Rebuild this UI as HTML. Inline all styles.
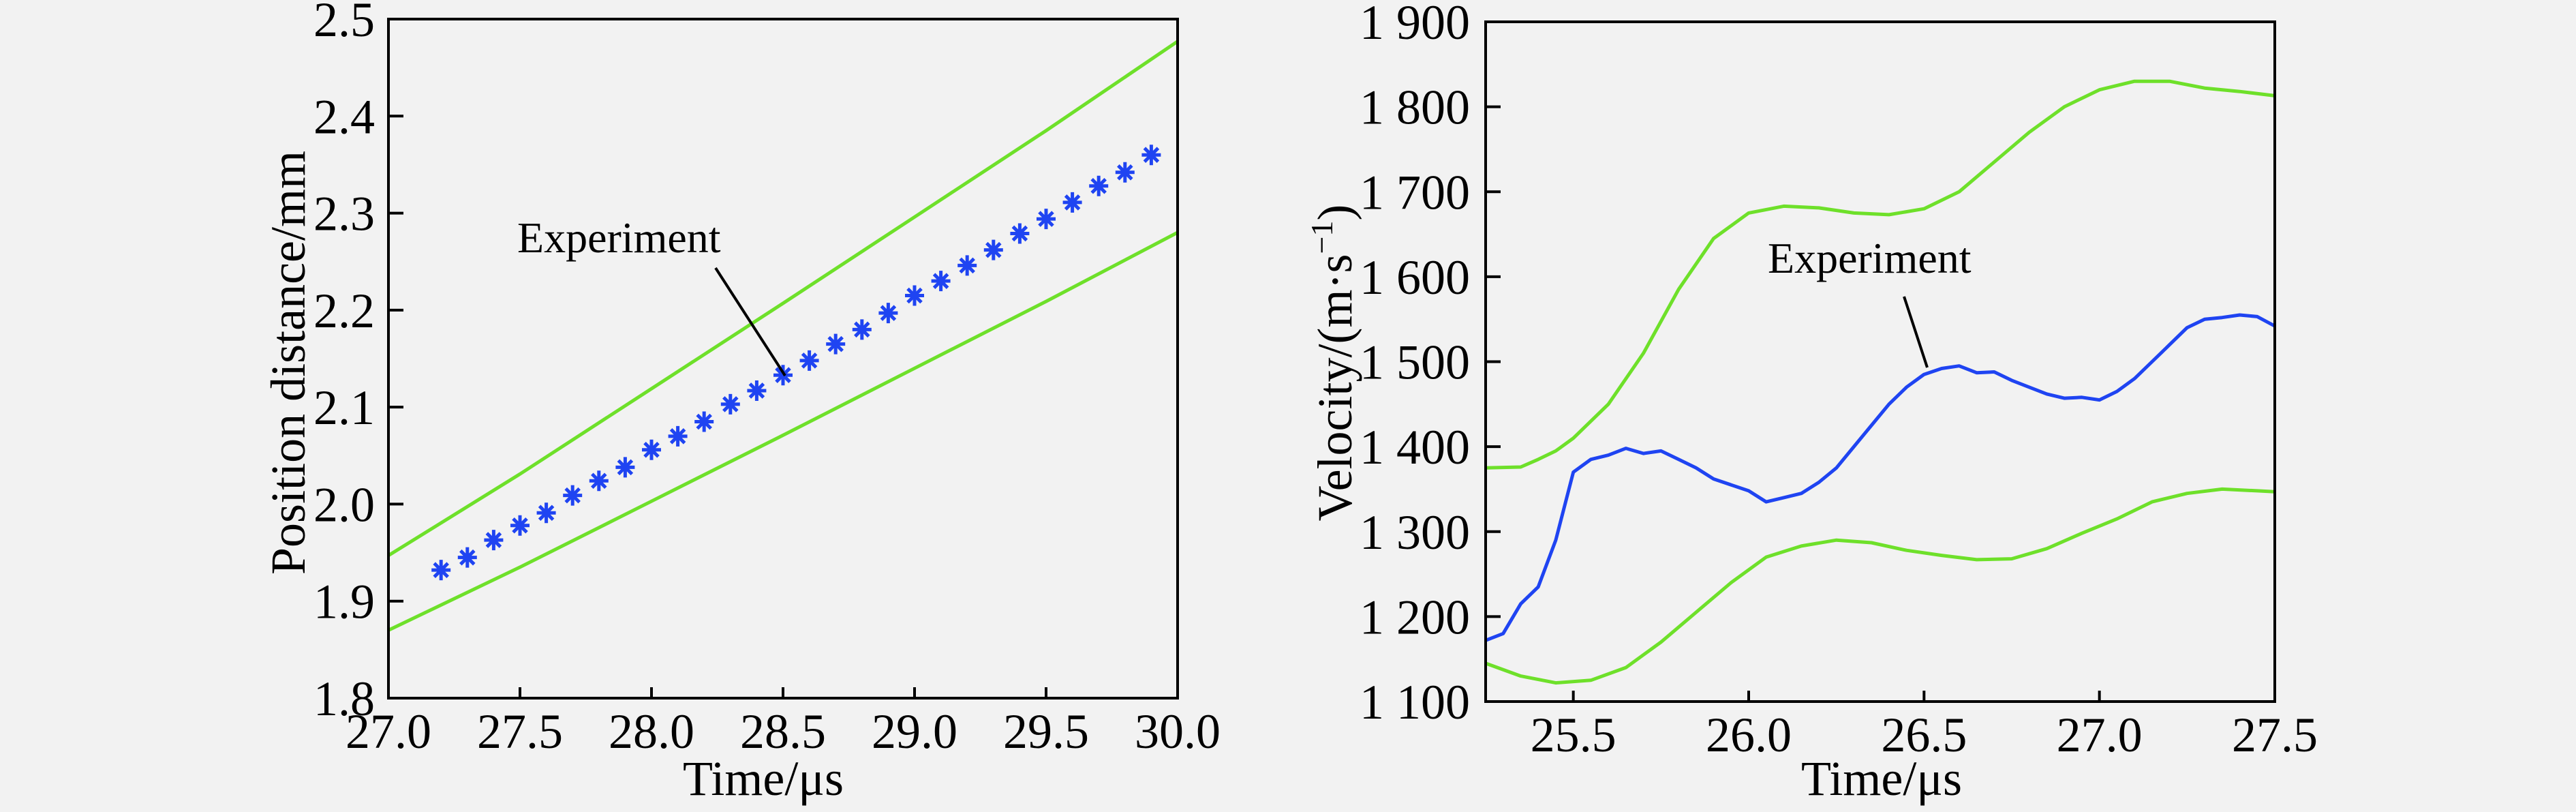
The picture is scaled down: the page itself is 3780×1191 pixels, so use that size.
<!DOCTYPE html>
<html><head><meta charset="utf-8">
<style>
html,body{margin:0;padding:0;background:#f2f2f2;}
svg{display:block;}
text{font-family:"Liberation Serif","Times New Roman",serif;}
</style></head>
<body>
<svg id="chart" width="3780" height="1191" viewBox="0 0 3780 1191" xmlns="http://www.w3.org/2000/svg" font-family="Liberation Serif, serif">
<rect width="3780" height="1191" fill="#f2f2f2"/>
<g id="left"></g>
<g id="right"></g>
</svg>
<script>
// Left chart data
const posXTicks = [27.0, 27.5, 28.0, 28.5, 29.0, 29.5, 30.0];
const posXTickLabels = ["27.0","27.5","28.0","28.5","29.0","29.5","30.0"];
const posYTicks = [1.8,1.9,2.0,2.1,2.2,2.3,2.4,2.5];
const posYTickLabels = ["1.8","1.9","2.0","2.1","2.2","2.3","2.4","2.5"];
const posBoundX = [27.0, 27.5, 28.0, 28.5, 29.0, 29.5, 30.0];
const posUpper = [1.947, 2.031, 2.119, 2.207, 2.296, 2.385, 2.477];
const posLower = [1.870, 1.935, 2.003, 2.071, 2.140, 2.209, 2.280];
const posExpX = [27.2,27.3,27.4,27.5,27.6,27.7,27.8,27.9,28.0,28.1,28.2,28.3,28.4,28.5,28.6,28.7,28.8,28.9,29.0,29.1,29.2,29.3,29.4,29.5,29.6,29.7,29.8,29.9];
const posExpY = [1.932,1.945,1.963,1.978,1.991,2.009,2.024,2.038,2.056,2.070,2.085,2.103,2.117,2.133,2.148,2.165,2.180,2.197,2.215,2.230,2.246,2.262,2.279,2.294,2.311,2.328,2.342,2.360];

// Right chart data
const velXTicks = [25.5, 26.0, 26.5, 27.0, 27.5];
const velXTickLabels = ["25.5","26.0","26.5","27.0","27.5"];
const velYTicks = [1100,1200,1300,1400,1500,1600,1700,1800,1900];
const velYTickLabels = ["1 100","1 200","1 300","1 400","1 500","1 600","1 700","1 800","1 900"];
const velUpperX = [25.25,25.35,25.4,25.45,25.5,25.6,25.7,25.8,25.9,26.0,26.1,26.2,26.3,26.4,26.5,26.6,26.7,26.8,26.9,27.0,27.1,27.2,27.3,27.4,27.5];
const velUpperY = [1375,1376,1385,1395,1410,1450,1510,1585,1645,1675,1683,1681,1675,1673,1680,1700,1735,1770,1800,1820,1830,1830,1822,1818,1813];
const velLowerX = [25.25,25.35,25.45,25.55,25.65,25.75,25.85,25.95,26.05,26.15,26.25,26.35,26.45,26.55,26.65,26.75,26.85,26.95,27.05,27.15,27.25,27.35,27.45,27.5];
const velLowerY = [1145,1130,1122,1125,1140,1170,1205,1240,1270,1283,1290,1287,1278,1272,1267,1268,1280,1298,1315,1335,1345,1350,1348,1347];
const velExpX = [25.25,25.3,25.35,25.4,25.45,25.5,25.55,25.6,25.65,25.7,25.75,25.8,25.85,25.9,25.95,26.0,26.05,26.1,26.15,26.2,26.25,26.3,26.35,26.4,26.45,26.5,26.55,26.6,26.65,26.7,26.75,26.8,26.85,26.9,26.95,27.0,27.05,27.1,27.15,27.2,27.25,27.3,27.35,27.4,27.45,27.5];
const velExpY = [1172,1180,1215,1235,1290,1370,1385,1390,1398,1392,1395,1385,1375,1362,1355,1348,1335,1340,1345,1358,1375,1400,1425,1450,1470,1485,1492,1495,1487,1488,1478,1470,1462,1457,1458,1455,1465,1480,1500,1520,1540,1550,1552,1555,1553,1542];

const NS = "http://www.w3.org/2000/svg";
const FONT = '"Liberation Serif", "Times New Roman", serif';
function mk(parent, tag, attrs, text) {
  const e = document.createElementNS(NS, tag);
  for (const k in attrs) e.setAttribute(k, attrs[k]);
  if (tag === 'text') e.style.fontFamily = FONT;
  if (text !== undefined) e.textContent = text;
  parent.appendChild(e);
  return e;
}
function scale(d0, d1, r0, r1) { return v => r0 + (v - d0) / (d1 - d0) * (r1 - r0); }

function axes(g, box, sx, sy, xt, xl, yt, yl, yLabelRight) {
  const fr = mk(g, 'rect', {x: box.l, y: box.t, width: box.r - box.l, height: box.b - box.t, fill: 'none', stroke: '#000', 'stroke-width': 4});
  
  
  xt.forEach((v, i) => {
    const x = sx(v);
    const t = mk(g, 'line', {x1: x, x2: x, y1: box.b, y2: box.b - 16, stroke: '#000', 'stroke-width': 4});
    
    
    const lb = mk(g, 'text', {x: x, y: box.b + 73, 'font-size': 72, 'text-anchor': 'middle', fill: '#000'}, xl[i]);
    
    
  });
  yt.forEach((v, i) => {
    const y = sy(v);
    const t = mk(g, 'line', {x1: box.l, x2: box.l + 22, y1: y, y2: y, stroke: '#000', 'stroke-width': 4});
    
    
    const lb = mk(g, 'text', {x: yLabelRight, y: y + 25, 'font-size': 72, 'text-anchor': 'end', fill: '#000'}, yl[i]);
    
    
  });
}
function line(g, xs, ys, sx, sy, color, name) {
  const d = xs.map((x, i) => (i ? 'L' : 'M') + sx(x).toFixed(1) + ',' + sy(ys[i]).toFixed(1)).join(' ');
  const p = mk(g, 'path', {d: d, fill: 'none', stroke: color, 'stroke-width': 5, 'stroke-linejoin': 'round'});
  
  
}

// LEFT
(function(){
  const g = document.getElementById('left');
  const box = {l: 570, r: 1728, t: 28, b: 1024};
  const sx = scale(27, 30, box.l, box.r), sy = scale(1.8, 2.5, box.b, box.t);
  line(g, posBoundX, posUpper, sx, sy, '#6ee02a', 'upper-bound-line');
  line(g, posBoundX, posLower, sx, sy, '#6ee02a', 'lower-bound-line');
  posExpX.forEach((xv, i) => {
    const x = sx(xv), y = sy(posExpY[i]);
    const s = mk(g, 'path', {d: `M${x-14},${y}H${x+14}M${x},${y-15}V${y+15}M${x-10},${y-10}L${x+10},${y+10}M${x-10},${y+10}L${x+10},${y-10}`, stroke: '#1f44f2', 'stroke-width': 5, fill: 'none'});
    
    
  });
  axes(g, box, sx, sy, posXTicks, posXTickLabels, posYTicks, posYTickLabels, 550);
  const a = mk(g, 'line', {x1: 1050, y1: 393, x2: 1152, y2: 551, stroke: '#000', 'stroke-width': 4});
  
  
  const at = mk(g, 'text', {x: 759, y: 370, 'font-size': 64, fill: '#000'}, 'Experiment');
  
  
  const xt = mk(g, 'text', {x: 1120, y: 1166, 'font-size': 72, 'text-anchor': 'middle', fill: '#000'}, 'Time/μs');
  
  
  const yt = mk(g, 'text', {x: 0, y: 0, 'font-size': 72, 'text-anchor': 'middle', fill: '#000', transform: 'translate(447,532) rotate(-90)'}, 'Position distance/mm');
  
  
})();

// RIGHT
(function(){
  const g = document.getElementById('right');
  const box = {l: 2180, r: 3338, t: 32, b: 1029};
  const sx = scale(25.25, 27.5, box.l, box.r), sy = scale(1100, 1900, box.b, box.t);
  line(g, velUpperX, velUpperY, sx, sy, '#6ee02a', 'upper-bound-line');
  line(g, velLowerX, velLowerY, sx, sy, '#6ee02a', 'lower-bound-line');
  line(g, velExpX, velExpY, sx, sy, '#1f44f2', 'experiment-line');
  axes(g, box, sx, sy, velXTicks, velXTickLabels, velYTicks, velYTickLabels, 2157);
  const a = mk(g, 'line', {x1: 2794, y1: 435, x2: 2828, y2: 539, stroke: '#000', 'stroke-width': 4});
  
  
  const at = mk(g, 'text', {x: 2594, y: 400, 'font-size': 64, fill: '#000'}, 'Experiment');
  
  
  const xt = mk(g, 'text', {x: 2761, y: 1166, 'font-size': 72, 'text-anchor': 'middle', fill: '#000'}, 'Time/μs');
  
  
  const yt = mk(g, 'text', {x: 0, y: 0, 'font-size': 72, 'text-anchor': 'middle', fill: '#000', transform: 'translate(1983,532) rotate(-90)'});
  
  
  mk(yt, 'tspan', {}, 'Velocity/(m·s');
  mk(yt, 'tspan', {dy: -28, 'font-size': 46}, '−1');
  mk(yt, 'tspan', {dy: 28}, ')');
})();
</script>
</body></html>
